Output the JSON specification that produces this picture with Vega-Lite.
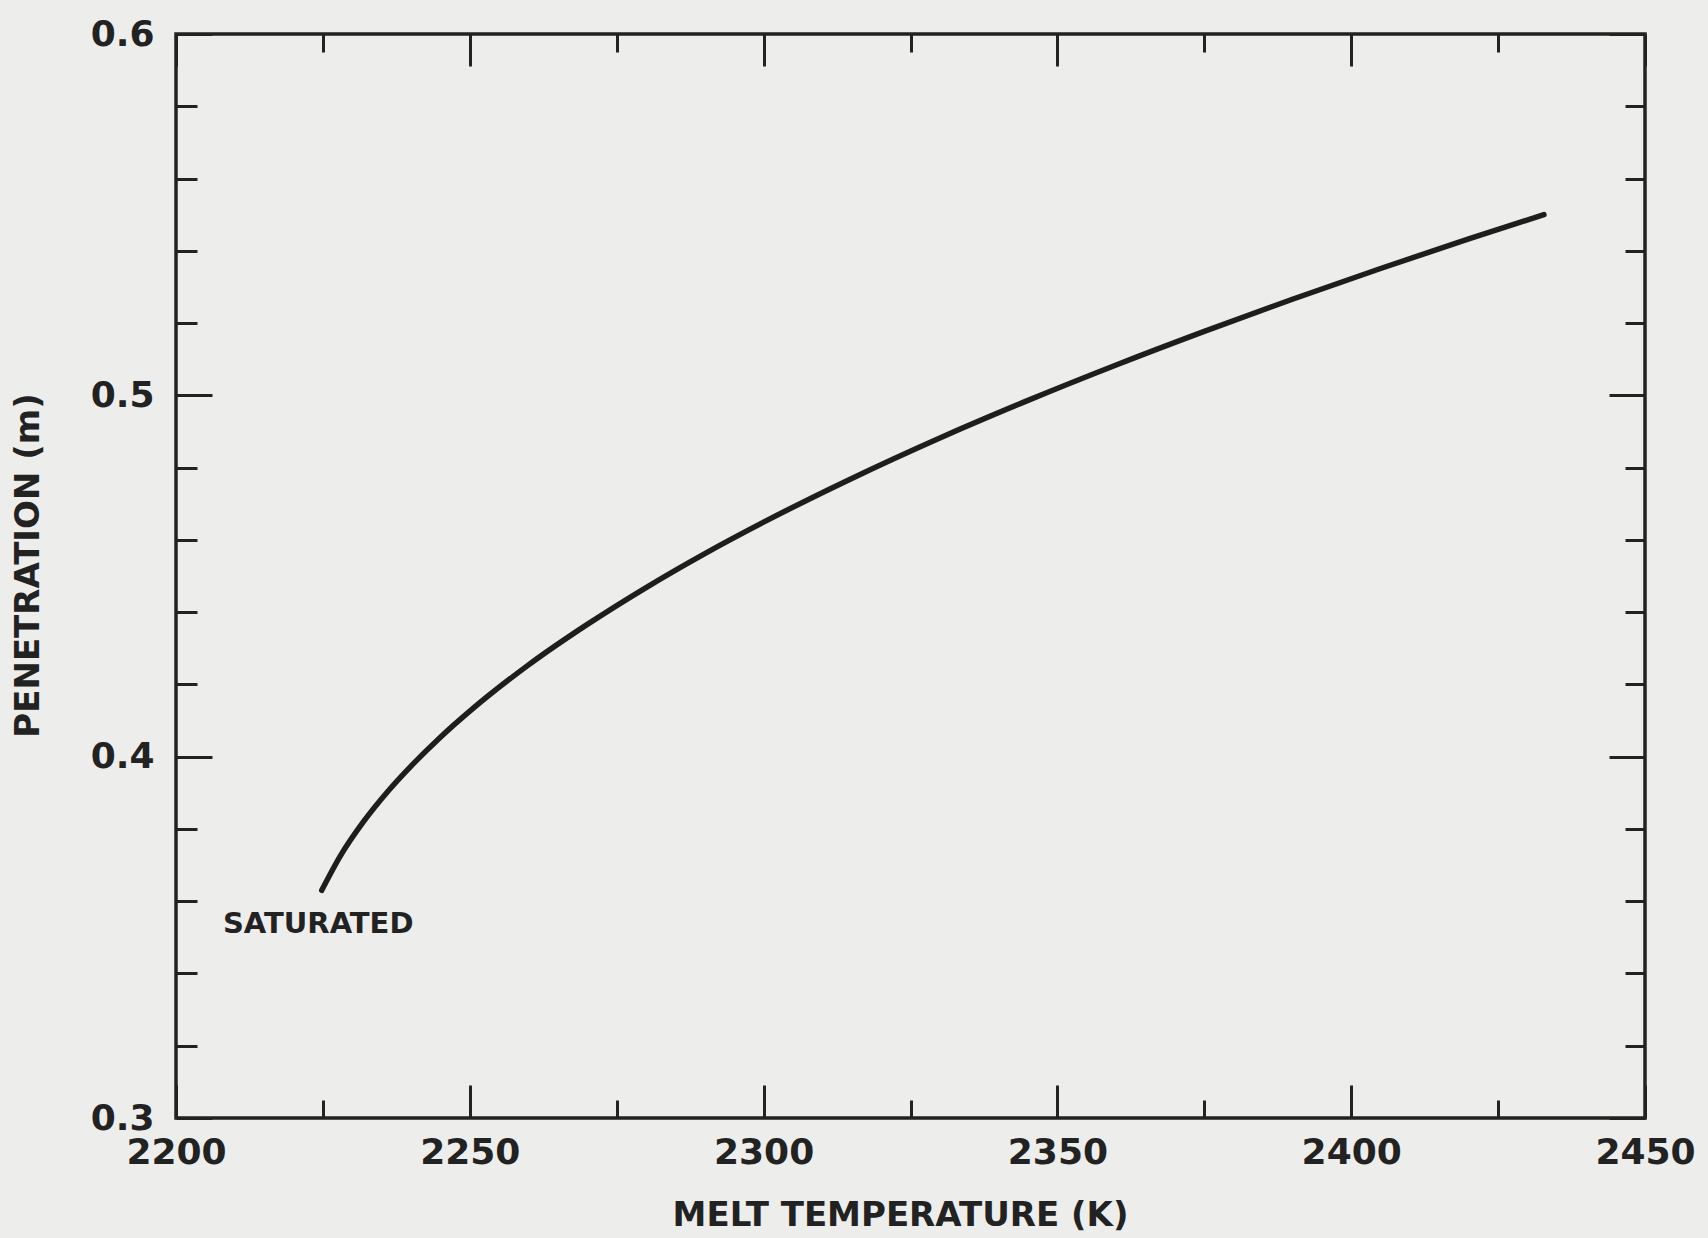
{
  "$schema": "https://vega.github.io/schema/vega-lite/v6.json",
  "width": 1469,
  "height": 1084,
  "autosize": "none",
  "padding": {"left": 176, "top": 34, "right": 63, "bottom": 120},
  "background": "#ededeb",
  "config": {
    "view": {"stroke": "#222222", "strokeWidth": 3.5},
    "axis": {
      "domain": false,
      "grid": false,
      "tickColor": "#222222",
      "tickWidth": 3,
      "labelFont": "DejaVu Sans",
      "labelFontWeight": "bold",
      "labelFontSize": 36,
      "labelColor": "#222222",
      "titleFont": "DejaVu Sans",
      "titleFontWeight": "bold",
      "titleFontSize": 34,
      "titleColor": "#222222",
      "labelFlush": false,
      "labelOverlap": false,
      "labelBound": false
    }
  },
  "datasets": {
    "curve": [
      {"T": 2224.8, "P": 0.3630},
      {"T": 2228, "P": 0.3726},
      {"T": 2232, "P": 0.3822},
      {"T": 2236, "P": 0.3903},
      {"T": 2240, "P": 0.3974},
      {"T": 2245, "P": 0.4054},
      {"T": 2250, "P": 0.4126},
      {"T": 2260, "P": 0.4254},
      {"T": 2270, "P": 0.4366},
      {"T": 2280, "P": 0.4468},
      {"T": 2290, "P": 0.4562},
      {"T": 2300, "P": 0.4649},
      {"T": 2315, "P": 0.4770},
      {"T": 2330, "P": 0.4882},
      {"T": 2345, "P": 0.4986},
      {"T": 2360, "P": 0.5084},
      {"T": 2375, "P": 0.5177},
      {"T": 2390, "P": 0.5266},
      {"T": 2405, "P": 0.5351},
      {"T": 2420, "P": 0.5433},
      {"T": 2432.8, "P": 0.5500}
    ],
    "note": [
      {"T": 2224.2, "P": 0.3538, "label": "SATURATED"}
    ]
  },
  "layer": [
    {
      "data": {"name": "curve"},
      "mark": {"type": "line", "interpolate": "monotone", "color": "#1e1e1e", "strokeWidth": 5.5, "strokeCap": "round"},
      "encoding": {
        "x": {
          "field": "T", "type": "quantitative",
          "scale": {"domain": [2200, 2450], "nice": false, "zero": false},
          "axis": {
            "orient": "bottom",
            "values": [2200, 2225, 2250, 2275, 2300, 2325, 2350, 2375, 2400, 2425, 2450],
            "tickSize": {"condition": {"test": "datum.value % 50 === 0", "value": -33}, "value": -18},
            "labelPadding": 50,
            "labelExpr": "datum.value % 50 === 0 ? format(datum.value, 'd') : ''",
            "title": "MELT TEMPERATURE (K)",
            "titleX": 724,
            "titleY": 97,
            "titleAlign": "center",
            "titleBaseline": "middle"
          }
        },
        "y": {
          "field": "P", "type": "quantitative",
          "scale": {"domain": [0.3, 0.6], "nice": false, "zero": false},
          "axis": {
            "orient": "left",
            "values": [0.3, 0.32, 0.34, 0.36, 0.38, 0.4, 0.42, 0.44, 0.46, 0.48, 0.5, 0.52, 0.54, 0.56, 0.58, 0.6],
            "tickSize": {"condition": {"test": "abs(datum.value*10 - round(datum.value*10)) < 0.001", "value": -36}, "value": -21},
            "labelPadding": 58,
            "labelExpr": "abs(datum.value*10 - round(datum.value*10)) < 0.001 ? format(datum.value, '.1f') : ''",
            "title": "PENETRATION (m)",
            "titleX": -148,
            "titleY": 531,
            "titleAngle": 270,
            "titleAlign": "center",
            "titleBaseline": "middle"
          }
        }
      }
    },
    {
      "data": {"name": "note"},
      "mark": {"type": "text", "font": "DejaVu Sans", "fontWeight": "bold", "fontSize": 29, "color": "#222222", "align": "center", "baseline": "middle"},
      "encoding": {
        "x": {
          "field": "T", "type": "quantitative",
          "scale": {"domain": [2200, 2450], "nice": false, "zero": false},
          "axis": {
            "orient": "top",
            "values": [2200, 2225, 2250, 2275, 2300, 2325, 2350, 2375, 2400, 2425, 2450],
            "tickSize": {"condition": {"test": "datum.value % 50 === 0", "value": -32}, "value": -18},
            "labels": false,
            "title": null
          }
        },
        "y": {
          "field": "P", "type": "quantitative",
          "scale": {"domain": [0.3, 0.6], "nice": false, "zero": false},
          "axis": {
            "orient": "right",
            "values": [0.3, 0.32, 0.34, 0.36, 0.38, 0.4, 0.42, 0.44, 0.46, 0.48, 0.5, 0.52, 0.54, 0.56, 0.58, 0.6],
            "tickSize": {"condition": {"test": "abs(datum.value*10 - round(datum.value*10)) < 0.001", "value": -36}, "value": -20},
            "labels": false,
            "title": null
          }
        },
        "text": {"field": "label"}
      }
    }
  ],
  "resolve": {"axis": {"x": "independent", "y": "independent"}}
}
